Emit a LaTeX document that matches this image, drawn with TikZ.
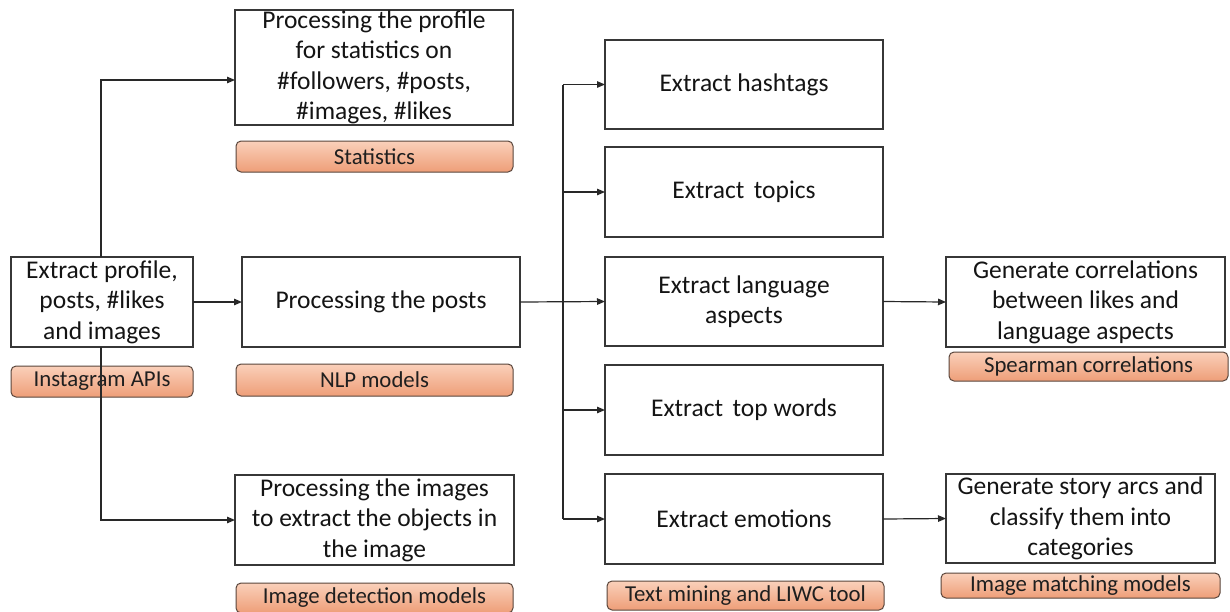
\documentclass[tikz,border=0pt]{standalone}
\usepackage{fontspec}
\setmainfont{Carlito}
\usetikzlibrary{arrows.meta}
\definecolor{boxline}{RGB}{55,55,55}
\definecolor{linec}{RGB}{40,40,40}
\definecolor{tagline}{RGB}{90,70,60}
\definecolor{tagtop}{RGB}{250,208,186}
\definecolor{tagbot}{RGB}{238,158,120}
\begin{document}
\begin{tikzpicture}[x=1pt,y=-1pt,
  every node/.style={inner sep=0pt, outer sep=0pt},
  box/.style={draw=boxline, line width=1.2pt, fill=white, align=center,
    font=\fontsize{25.5}{30.5}\selectfont, text=black!92},
  tagbox/.style={draw=tagline, line width=1pt, rounded corners=5pt,
    top color=tagtop, bottom color=tagbot, align=center,
    font=\fontsize{22.8}{27}\selectfont, text=black!88},
  conn/.style={draw=linec, line width=1.2pt},
  arr/.style={conn, -{Triangle[length=8pt,width=6.5pt]}}]

\fill[white] (0,0) rectangle (1230,611);
\useasboundingbox (0,0) rectangle (1230,611);

% labels under the boxes
\node[tagbox, minimum width=277, minimum height=31] (tstat) at (374.5,156.5) {Statistics};
\node[tagbox, minimum width=182, minimum height=31] (tinsta) at (102,381.5) {Instagram APIs};
\node[tagbox, minimum width=277, minimum height=32] (tnlp) at (374.5,380) {NLP models};
\node[tagbox, minimum width=277, minimum height=30] (timg) at (374.5,598) {Image detection models};
\node[tagbox, minimum width=277, minimum height=29] (ttext) at (745.5,595.5) {Text mining and LIWC tool};
\node[tagbox, minimum width=279, minimum height=29] (tspear) at (1088.5,366.5) {Spearman correlations};
\node[tagbox, minimum width=279, minimum height=25] (tmatch) at (1080.5,585.5) {Image matching models};

% processing boxes
\node[box, minimum width=182, minimum height=90] (extract) at (102,302)
  {Extract profile,\\posts, \#likes\\and images};
\node[box, minimum width=278, minimum height=115] (profile) at (374,67.5)
  {Processing the profile\\for statistics on\\\#followers, \#posts,\\\#images, \#likes};
\node[box, minimum width=278, minimum height=90] (posts) at (381,302)
  {Processing the posts};
\node[box, minimum width=279, minimum height=90] (images) at (374.5,520)
  {Processing the images\\to extract the objects in\\the image};
\node[box, minimum width=278, minimum height=89] (hashtags) at (744,84.5)
  {Extract hashtags};
\node[box, minimum width=278, minimum height=90] (topics) at (744,192)
  {Extract\hspace{0.15em} topics};
\node[box, minimum width=278, minimum height=89] (language) at (744,301.5)
  {Extract language\\aspects};
\node[box, minimum width=278, minimum height=90] (topwords) at (744,410)
  {Extract\hspace{0.15em} top words};
\node[box, minimum width=278, minimum height=90] (emotions) at (744,519)
  {Extract emotions};
\node[box, minimum width=279, minimum height=90] (correl) at (1085.5,302)
  {Generate correlations\\between likes and\\language aspects};
\node[box, minimum width=269, minimum height=89] (story) at (1080.5,518.5)
  {Generate story arcs and\\classify them into\\categories};

% trunk lines
\coordinate (lspine) at (101,0);
\coordinate (rspine) at (563,0);

\draw[arr] (extract.north -| lspine) |- ([yshift=-12.5pt]profile.west);
\draw[arr] (extract.south -| lspine) |- (images.west);
\draw[arr] (extract.east) -- (posts.west);
\draw[arr] (posts.east) -- (language.west);

\draw[conn] (hashtags.west -| rspine) -- (emotions.west -| rspine);
\draw[arr] (hashtags.west -| rspine) -- (hashtags.west);
\draw[arr] (topics.west -| rspine) -- (topics.west);
\draw[arr] (topwords.west -| rspine) -- (topwords.west);
\draw[arr] (emotions.west -| rspine) -- (emotions.west);

\draw[arr] (language.east) -- (correl.west);
\draw[arr] (emotions.east) -- (story.west);
\end{tikzpicture}
\end{document}
